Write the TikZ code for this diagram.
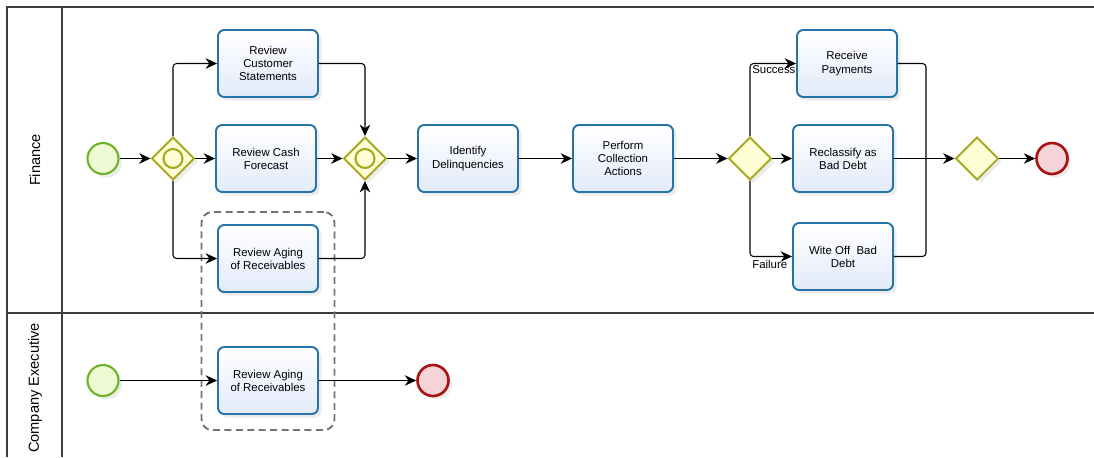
\documentclass[tikz,border=0pt]{standalone}
\usepackage{fontspec}
\setmainfont{Liberation Sans}
\usetikzlibrary{arrows.meta,shapes.geometric,shadows}

\definecolor{taskline}{RGB}{36,116,168}
\definecolor{taskfill}{RGB}{226,234,250}
\definecolor{startline}{RGB}{110,178,40}
\definecolor{startfill}{RGB}{238,250,212}
\definecolor{endline}{RGB}{168,18,18}
\definecolor{endfill}{RGB}{244,212,216}
\definecolor{gwline}{RGB}{168,168,30}
\definecolor{gwfill}{RGB}{255,255,214}
\definecolor{poolline}{RGB}{60,60,60}

\begin{document}
\begin{tikzpicture}[x=0.02cm, y=-0.02cm, >={Stealth[length=6.5pt,width=6pt]}]
        \tikzstyle{task}=[draw=taskline, line width=1.1pt, rectangle, rounded corners=3.5pt, top color=white, bottom color=taskfill, minimum width=2cm, minimum height=1.34cm, font=\fontsize{6.5}{7.5}\selectfont, align=center, drop shadow={opacity=0.15, shadow xshift=2pt, shadow yshift=-2pt}]
        \tikzstyle{start}=[draw=startline, line width=1.2pt, circle, fill=startfill, minimum size=0.62cm, inner sep=0pt, drop shadow={opacity=0.15, shadow xshift=2pt, shadow yshift=-2pt}]
        \tikzstyle{finish}=[draw=endline, line width=1.5pt, circle, fill=endfill, minimum size=0.62cm, inner sep=0pt, drop shadow={opacity=0.15, shadow xshift=2pt, shadow yshift=-2pt}]
        \tikzstyle{gateway}=[draw=gwline, line width=1.1pt, diamond, fill=gwfill, minimum size=0.86cm, inner sep=0pt, drop shadow={opacity=0.15, shadow xshift=2pt, shadow yshift=-2pt}]
        \tikzstyle{gwmark}=[draw=gwline, line width=1.2pt, circle, minimum size=0.38cm, inner sep=0pt]
        \tikzstyle{flow}=[->, line width=0.6pt, rounded corners=2pt]
        \tikzstyle{line}=[line width=0.6pt, rounded corners=2pt]
        \tikzstyle{pool}=[draw=poolline, line width=0.8pt]
        \tikzstyle{lanelabel}=[rotate=90, font=\fontsize{8.3}{10}\selectfont]
        \tikzstyle{group}=[draw=black!55, line width=1.1pt, dashed, dash pattern=on 4pt off 2.5pt, rounded corners=6pt, minimum width=2.66cm, minimum height=4.36cm]
        \tikzstyle{flowlabel}=[font=\fontsize{6.5}{7.5}\selectfont, inner sep=1pt]

        \useasboundingbox (0,0) rectangle (1094,457);

        % pool and lanes
        \draw[pool] (1094,7) -- (7,7) -- (7,457);
        \draw[pool] (62,7) -- (62,457);
        \draw[pool] (7,313) -- (1094,313);
        \node[lanelabel] (finlbl) at (35,160) {Finance};
        \node[lanelabel] (execlbl) at (35,388) {Company Executive};

        % group
        \node[group] (grp) at (268,321) {};

        % finance lane
        \node[start] (s1) at (103,158.5) {};
        \node[gateway] (gw1) at (173,158.5) {};
        \node[gwmark] (gw1c) at (gw1) {};
        \node[task] (rcs) at (268,63.5) {Review\\Customer\\Statements};
        \node[task] (rcf) at (266,158.5) {Review Cash\\Forecast};
        \node[task] (rar) at (268,258.5) {Review Aging\\of Receivables};
        \node[gateway] (gw2) at (365,158.5) {};
        \node[gwmark] (gw2c) at (gw2) {};
        \node[task] (idd) at (468,158.5) {Identify\\Delinquencies};
        \node[task] (pca) at (623,158.5) {Perform\\Collection\\Actions};
        \node[gateway] (gw3) at (750,158.5) {};
        \node[task] (rpm) at (847,63.5) {Receive\\Payments};
        \node[task] (rbd) at (843,158.5) {Reclassify as\\Bad Debt};
        \node[task] (wob) at (843,256.5) {Wite Off\ \ Bad\\Debt};
        \node[gateway] (gw4) at (977,158.5) {};
        \node[finish] (e1) at (1052,158.5) {};
        \coordinate (join) at (926,158.5);

        \draw[flow] (s1) -- (gw1);
        \draw[flow] (gw1.north) |- (rcs);
        \draw[flow] (gw1) -- (rcf);
        \draw[flow] (gw1.south) |- (rar);
        \draw[flow] (rcs) -| (gw2.north);
        \draw[flow] (rcf) -- (gw2);
        \draw[flow] (rar) -| (gw2.south);
        \draw[flow] (gw2) -- (idd);
        \draw[flow] (idd) -- (pca);
        \draw[flow] (pca) -- (gw3);
        \draw[flow] (gw3.north) |- node[flowlabel, pos=0.5, anchor=north west] {Success} (rpm);
        \draw[flow] (gw3) -- (rbd);
        \draw[flow] (gw3.south) |- node[flowlabel, pos=0.5, anchor=north west, yshift=-1pt] {Failure} (wob);
        \draw[line] (rpm) -| (join);
        \draw[line] (wob) -| (join);
        \draw[flow] (rbd) -- (gw4);
        \draw[flow] (gw4) -- (e1);

        % company executive lane
        \node[start] (s2) at (103,380.5) {};
        \node[task] (rar2) at (268,380.5) {Review Aging\\of Receivables};
        \node[finish] (e2) at (433,380.5) {};

        \draw[flow] (s2) -- (rar2);
        \draw[flow] (rar2) -- (e2);
\end{tikzpicture}
\end{document}
